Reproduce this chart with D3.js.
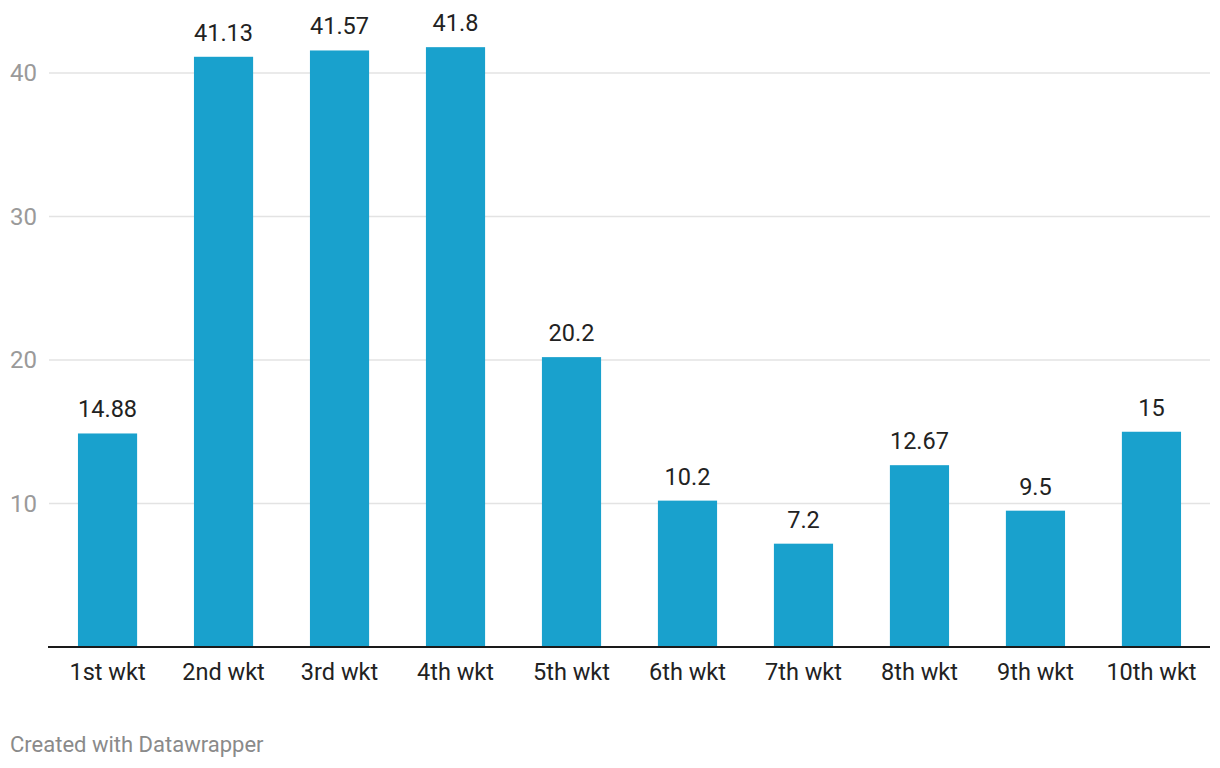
<!DOCTYPE html>
<html><head><meta charset="utf-8">
<script src="https://cdn.jsdelivr.net/npm/d3@7"></script>
<style>body{margin:0;background:#fff;}svg{display:block;font-family:Roboto,sans-serif;}</style>
</head><body>
<svg id="chart" width="1220" height="768"></svg>
<script>
const categories = ["1st wkt","2nd wkt","3rd wkt","4th wkt","5th wkt","6th wkt","7th wkt","8th wkt","9th wkt","10th wkt"];
const values = [14.88, 41.13, 41.57, 41.8, 20.2, 10.2, 7.2, 12.67, 9.5, 15];
const valueLabels = ["14.88","41.13","41.57","41.8","20.2","10.2","7.2","12.67","9.5","15"];
const yTicks = [10, 20, 30, 40];

(function(){
const svg = d3.select("#chart");
const mLeft = 48.5, mRight = 1210.5, mBottom = 647;
const x = d3.scaleBand().domain(categories).range([mLeft, mRight]).paddingInner(0.49).paddingOuter(0.254);
const y = d3.scaleLinear().domain([0, 40]).range([mBottom, 73]);

svg.append("g").selectAll("line").data(yTicks).join("line")
  .attr("x1", 49).attr("x2", 1210)
  .attr("y1", d => y(d)).attr("y2", d => y(d))
  .attr("stroke", "#e3e3e3").attr("stroke-width", 1.5);

svg.append("g").selectAll("text").data(yTicks).join("text")
  .attr("x", 10).attr("y", d => y(d)).attr("dy", "0.35em")
  .attr("fill", "#9a9a9a").attr("font-size", 24).text(d => d);

svg.append("g").selectAll("rect").data(values).join("rect")
  .attr("x", (d, i) => x(categories[i])).attr("width", x.bandwidth())
  .attr("y", d => y(d)).attr("height", d => y(0) - y(d))
  .attr("fill", "#19a1cd");

svg.append("g").selectAll("text").data(values).join("text")
  .attr("x", (d, i) => x(categories[i]) + x.bandwidth() / 2)
  .attr("y", d => y(d) - 16)
  .attr("text-anchor", "middle").attr("fill", "#222").attr("font-size", 23.5)
  .text((d, i) => valueLabels[i]);

svg.append("line").attr("x1", 48).attr("x2", 1210).attr("y1", mBottom).attr("y2", mBottom)
  .attr("stroke", "#1a1a1a").attr("stroke-width", 2);

svg.append("g").selectAll("text").data(categories).join("text")
  .attr("x", d => x(d) + x.bandwidth() / 2).attr("y", 680)
  .attr("text-anchor", "middle").attr("fill", "#222").attr("font-size", 23.5)
  .text(d => d);

svg.append("text").attr("x", 10).attr("y", 752).attr("fill", "#8a8a8a").attr("font-size", 22)
  .text("Created with Datawrapper");
})();
</script>
</body></html>
